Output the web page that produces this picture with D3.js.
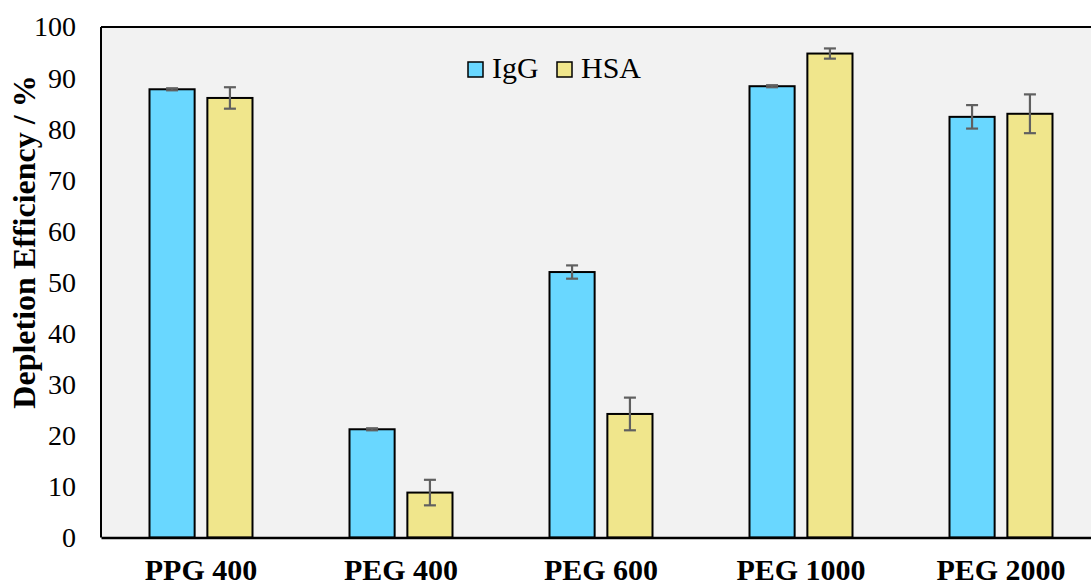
<!DOCTYPE html>
<html>
<head>
<meta charset="utf-8">
<script src="https://cdn.jsdelivr.net/npm/d3@7"></script>
<style>
  html, body { margin: 0; padding: 0; background: #ffffff; }
  svg { display: block; }
</style>
</head>
<body>
<svg id="chart" width="1091" height="585"></svg>
<script>
// Depletion efficiency of IgG and HSA for each polymer
const categories = ["PPG 400", "PEG 400", "PEG 600", "PEG 1000", "PEG 2000"];
const seriesNames = ["IgG", "HSA"];
const iggValues = [87.8, 21.2, 52.0, 88.4, 82.4];
const iggErrors = [0.2, 0.2, 1.3, 0.2, 2.3];
const hsaValues = [86.1, 8.8, 24.2, 94.8, 83.0];
const hsaErrors = [2.1, 2.5, 3.2, 1.0, 3.8];
const yTicks = [0, 10, 20, 30, 40, 50, 60, 70, 80, 90, 100];
const colors = { IgG: "#69d7ff", HSA: "#f0e68c" };

const svg = d3.select("#chart");
const margin = { left: 101, top: 27, right: -10, bottom: 47.5 };
const W = 1091, H = 585;
const innerW = W - margin.left - margin.right;
const innerH = H - margin.top - margin.bottom;
const font = "'Liberation Serif', 'Times New Roman', serif";

const x = d3.scaleBand().domain(categories).range([0, innerW]).paddingInner(0).paddingOuter(0);
const x1 = d3.scaleBand().domain(seriesNames).range([x.bandwidth() / 2 - 51.5, x.bandwidth() / 2 + 51.5]).paddingInner(0.22);
const y = d3.scaleLinear().domain([0, 100]).range([innerH, 0]);

const g = svg.append("g").attr("transform", `translate(${margin.left},${margin.top})`);

// plot background
g.append("rect")
  .attr("x", 0).attr("y", 0)
  .attr("width", innerW).attr("height", innerH)
  .attr("fill", "#f2f2f2");

const rows = categories.map((c, i) => ({
  cat: c,
  items: [
    { s: "IgG", v: iggValues[i], e: iggErrors[i] },
    { s: "HSA", v: hsaValues[i], e: hsaErrors[i] }
  ]
}));

const groups = g.selectAll(".grp").data(rows).enter().append("g")
  .attr("class", "grp")
  .attr("transform", d => `translate(${x(d.cat)},0)`);

groups.selectAll("rect.bar").data(d => d.items).enter().append("rect")
  .attr("class", "bar")
  .attr("x", d => x1(d.s))
  .attr("y", d => y(d.v))
  .attr("width", x1.bandwidth())
  .attr("height", d => y(0) - y(d.v))
  .attr("fill", d => colors[d.s])
  .attr("stroke", "#000")
  .attr("stroke-width", 2);

// error bars
const err = groups.selectAll("g.err").data(d => d.items).enter().append("g")
  .attr("class", "err")
  .attr("stroke", "#606060")
  .attr("stroke-width", 2.2);
err.append("line")
  .attr("x1", d => x1(d.s) + x1.bandwidth() / 2)
  .attr("x2", d => x1(d.s) + x1.bandwidth() / 2)
  .attr("y1", d => y(d.v + d.e))
  .attr("y2", d => y(d.v - d.e));
err.append("line")
  .attr("x1", d => x1(d.s) + x1.bandwidth() / 2 - 6)
  .attr("x2", d => x1(d.s) + x1.bandwidth() / 2 + 6)
  .attr("y1", d => y(d.v + d.e))
  .attr("y2", d => y(d.v + d.e));
err.append("line")
  .attr("x1", d => x1(d.s) + x1.bandwidth() / 2 - 6)
  .attr("x2", d => x1(d.s) + x1.bandwidth() / 2 + 6)
  .attr("y1", d => y(d.v - d.e))
  .attr("y2", d => y(d.v - d.e));

// frame: top and left borders
g.append("line").attr("x1", 0).attr("x2", innerW).attr("y1", 0).attr("y2", 0)
  .attr("stroke", "#000").attr("stroke-width", 2);
g.append("line").attr("x1", 0).attr("x2", 0).attr("y1", 0).attr("y2", innerH)
  .attr("stroke", "#000").attr("stroke-width", 2);

// y axis labels
const yAxis = g.append("g").call(d3.axisLeft(y).tickValues(yTicks).tickSize(0).tickPadding(25));
yAxis.select(".domain").remove();
yAxis.selectAll("text")
  .attr("font-family", font).attr("font-size", 28).attr("fill", "#000");

// x axis
const xAxis = g.append("g").attr("transform", `translate(0,${innerH})`)
  .call(d3.axisBottom(x).tickSize(0).tickPadding(21));
xAxis.select(".domain").attr("stroke", "#000").attr("stroke-width", 2.5);
xAxis.selectAll("text")
  .attr("font-family", font).attr("font-size", 30).attr("font-weight", "bold").attr("fill", "#000");

// y axis title
svg.append("text")
  .attr("transform", "translate(35,242) rotate(-90)")
  .attr("text-anchor", "middle")
  .attr("font-family", font).attr("font-size", 32).attr("font-weight", "bold")
  .text("Depletion Efficiency / %");

// legend
const legend = svg.append("g").attr("transform", "translate(468,62)");
const legendX = [0, 89];
seriesNames.forEach((s, i) => {
  const lg = legend.append("g").attr("transform", `translate(${legendX[i]},0)`);
  lg.append("rect").attr("x", 0).attr("y", 0).attr("width", 15).attr("height", 15)
    .attr("fill", colors[s]).attr("stroke", "#000").attr("stroke-width", 1.5);
  lg.append("text").attr("x", 24).attr("y", 16)
    .attr("font-family", font).attr("font-size", 30).attr("fill", "#000")
    .text(s);
});
</script>
</body>
</html>
